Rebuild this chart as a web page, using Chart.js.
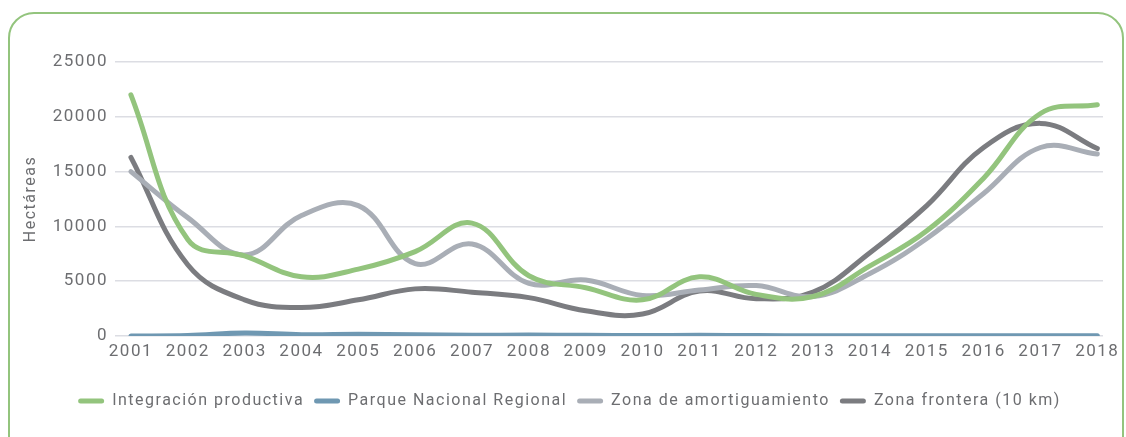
<!DOCTYPE html>
<html lang="es">
<head>
<meta charset="utf-8">
<title>Hectáreas por zona 2001-2018</title>
<script src="https://cdn.jsdelivr.net/npm/chart.js@4.4.1/dist/chart.umd.min.js"></script>
<style>
  html, body { margin: 0; padding: 0; background: #fff; }
  body { width: 1126px; height: 437px; position: relative; overflow: hidden; font-family: Roboto, sans-serif; }
  .frame {
    position: absolute; left: 8px; top: 12px; width: 1116px; height: 460px;
    border: 2px solid #93c47d; border-radius: 26px; box-sizing: border-box;
  }
  .wrap { position: absolute; left: 0; top: 0; width: 1126px; height: 437px; }
</style>
</head>
<body>
<div class="frame"></div>
<div class="wrap"><canvas id="chart" width="1126" height="437"></canvas></div>
<script>
  // ---- datos ----
  const years = [2001, 2002, 2003, 2004, 2005, 2006, 2007, 2008, 2009, 2010, 2011, 2012, 2013, 2014, 2015, 2016, 2017, 2018];
  const integracion = [22000, 8800, 7300, 5400, 6100, 7700, 10300, 5500, 4400, 3300, 5400, 3800, 3600, 6400, 9600, 14400, 20300, 21100];
  const parque = [0, 50, 270, 120, 150, 120, 60, 80, 60, 40, 60, 40, 30, 30, 30, 30, 30, 30];
  const amortiguamiento = [15000, 10800, 7400, 11000, 11900, 6600, 8400, 4800, 5100, 3700, 4200, 4600, 3600, 5700, 8900, 13000, 17200, 16600];
  const frontera = [16300, 6500, 3300, 2600, 3300, 4300, 4000, 3500, 2300, 2000, 4100, 3400, 4000, 7600, 11900, 17200, 19400, 17100];
  const yTicks = [0, 5000, 10000, 15000, 20000, 25000];

  const seriesNames = ['Integración productiva', 'Parque Nacional Regional', 'Zona de amortiguamiento', 'Zona frontera (10 km)'];
  const seriesColors = ['#93c47d', '#6f98b2', '#a9aeb6', '#7b7c80'];
  const seriesData = [integracion, parque, amortiguamiento, frontera];

  const TEXT = '#6d6e71';

  const datasets = seriesData.map((vals, i) => ({
    label: seriesNames[i],
    data: vals.map((v, k) => ({ x: years[k], y: v })),
    borderColor: seriesColors[i],
    backgroundColor: seriesColors[i],
    borderWidth: 5,
    borderCapStyle: 'round',
    pointRadius: 0,
    tension: 0.4,
    fill: false
  }));

  // el texto del original va algo espaciado
  const spacing = {
    id: 'spacing',
    beforeLayout: (c) => { c.ctx.letterSpacing = '1.5px'; },
    beforeDraw: (c) => { c.ctx.letterSpacing = '1.5px'; }
  };

  new Chart(document.getElementById('chart'), {
    type: 'line',
    data: { datasets },
    plugins: [spacing],
    options: {
      responsive: false,
      animation: false,
      layout: { padding: { left: 36, right: 23, top: 62, bottom: 18 } },
      plugins: {
        tooltip: { enabled: false },
        legend: {
          position: 'bottom',
          labels: {
            color: TEXT,
            font: { family: 'Roboto', size: 16 },
            boxWidth: 26,
            boxHeight: 5,
            useBorderRadius: true,
            borderRadius: 2.5,
            padding: 10,
            // caja rellena sin trazo (el borde de 5px la engordaba)
            generateLabels: (chart) => Chart.defaults.plugins.legend.labels.generateLabels(chart)
              .map(l => Object.assign(l, { lineWidth: 0 }))
          }
        }
      },
      scales: {
        x: {
          type: 'linear',
          min: 2000.72,
          max: 2018.1,
          afterBuildTicks: (s) => { s.ticks = years.map(v => ({ value: v })); },
          grid: { display: false },
          border: { display: false },
          ticks: {
            color: TEXT,
            font: { family: 'Roboto', size: 17 },
            padding: -2,
            maxRotation: 0,
            autoSkip: false,
            callback: (v) => String(v)
          },
          afterFit: (s) => { s.height = 47; }
        },
        y: {
          min: 0,
          max: 25000,
          afterBuildTicks: (s) => { s.ticks = yTicks.map(v => ({ value: v })); },
          grid: { color: '#dcdde3', lineWidth: 1.5, drawTicks: false },
          border: { display: false },
          ticks: {
            color: TEXT,
            font: { family: 'Roboto', size: 17 },
            padding: 7,
            callback: (v) => String(v)
          },
          title: {
            display: true,
            text: 'Hectáreas',
            color: TEXT,
            font: { family: 'Roboto', size: 16 },
            padding: { top: -15, bottom: 0 }
          },
          afterFit: (s) => { s.width = 79; }
        }
      }
    }
  });
</script>
</body>
</html>
